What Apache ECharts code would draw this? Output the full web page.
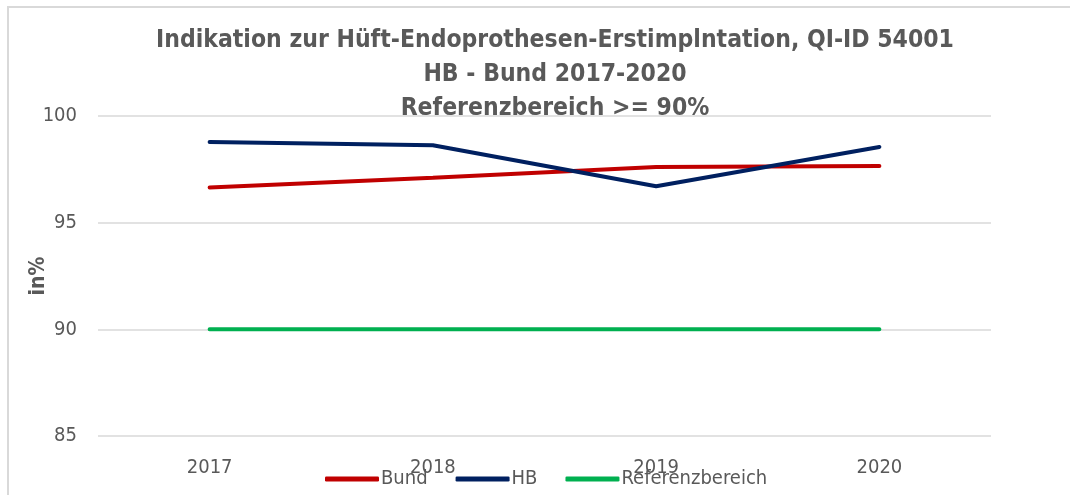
<!doctype html>
<html>
<head>
    <meta charset="utf-8">
    <title>QI-ID 54001</title>
    <script type="text/javascript" src="https://cdn.jsdelivr.net/npm/echarts@6/dist/echarts.min.js"></script>
    <style>
        html, body { margin: 0; padding: 0; background: #fff; }
        #container { width: 1070px; height: 495px; }
    </style>
</head>
<body>
<div id="container"></div>
<script type="text/javascript">
    // Daten
    var jahre = ['2017', '2018', '2019', '2020'];
    var bund = [96.65, 97.11, 97.61, 97.66];
    var hb = [98.78, 98.63, 96.71, 98.55];
    var referenz = [90, 90, 90, 90];
    var yTicks = [85, 90, 95, 100];

    var grau = '#595959';
    var schrift = '"DejaVu Sans Condensed", "Liberation Sans Narrow", sans-serif';

    var myChart = echarts.init(document.getElementById('container'));

    var option = {
        animation: false,
        title: {
            text: 'Indikation zur Hüft-Endoprothesen-Erstimplntation, QI-ID 54001\nHB - Bund 2017-2020\nReferenzbereich >= 90%',
            left: 550,
            top: 19,
            textAlign: 'center',
            textStyle: {
                fontFamily: schrift,
                fontSize: 24.5,
                fontWeight: 'bold',
                color: grau,
                lineHeight: 34
            }
        },
        legend: {
            data: ['Bund', 'HB', 'Referenzbereich'],
            left: 320,
            top: 464,
            icon: 'roundRect',
            itemWidth: 54,
            itemHeight: 5,
            itemGap: 28,
            textStyle: { fontFamily: schrift, fontSize: 20, color: grau, padding: [0, 0, 0, -3] }
        },
        grid: { left: 98, right: 79, top: 116, bottom: 59 },
        graphic: [{
            type: 'rect',
            shape: { x: 8, y: 7, width: 1100, height: 600 },
            style: { fill: 'none', stroke: '#d9d9d9', lineWidth: 2 },
            silent: true
        }],
        xAxis: {
            type: 'category',
            data: jahre,
            boundaryGap: true,
            axisLine: { show: false },
            axisTick: { show: false },
            axisLabel: { fontFamily: schrift, fontSize: 20, color: grau, margin: 22 }
        },
        yAxis: {
            type: 'value',
            min: yTicks[0],
            max: yTicks[yTicks.length - 1],
            interval: 5,
            name: 'in%',
            nameLocation: 'middle',
            nameGap: 49,
            nameMoveOverlap: false,
            nameTextStyle: { fontFamily: schrift, fontSize: 21, fontWeight: 'bold', color: grau },
            axisLine: { show: false },
            axisTick: { show: false },
            axisLabel: { fontFamily: schrift, fontSize: 20, color: grau, margin: 21 },
            splitLine: { lineStyle: { color: '#d9d9d9', width: 1.5 } }
        },
        series: [
            {
                name: 'Bund', type: 'line', data: bund, symbol: 'none',
                lineStyle: { color: '#C00000', width: 4, cap: 'round' },
                itemStyle: { color: '#C00000' }
            },
            {
                name: 'HB', type: 'line', data: hb, symbol: 'none',
                lineStyle: { color: '#002060', width: 4, cap: 'round' },
                itemStyle: { color: '#002060' }
            },
            {
                name: 'Referenzbereich', type: 'line', data: referenz, symbol: 'none',
                lineStyle: { color: '#00B050', width: 4, cap: 'round' },
                itemStyle: { color: '#00B050' }
            }
        ]
    };

    myChart.setOption(option);
</script>
</body>
</html>
